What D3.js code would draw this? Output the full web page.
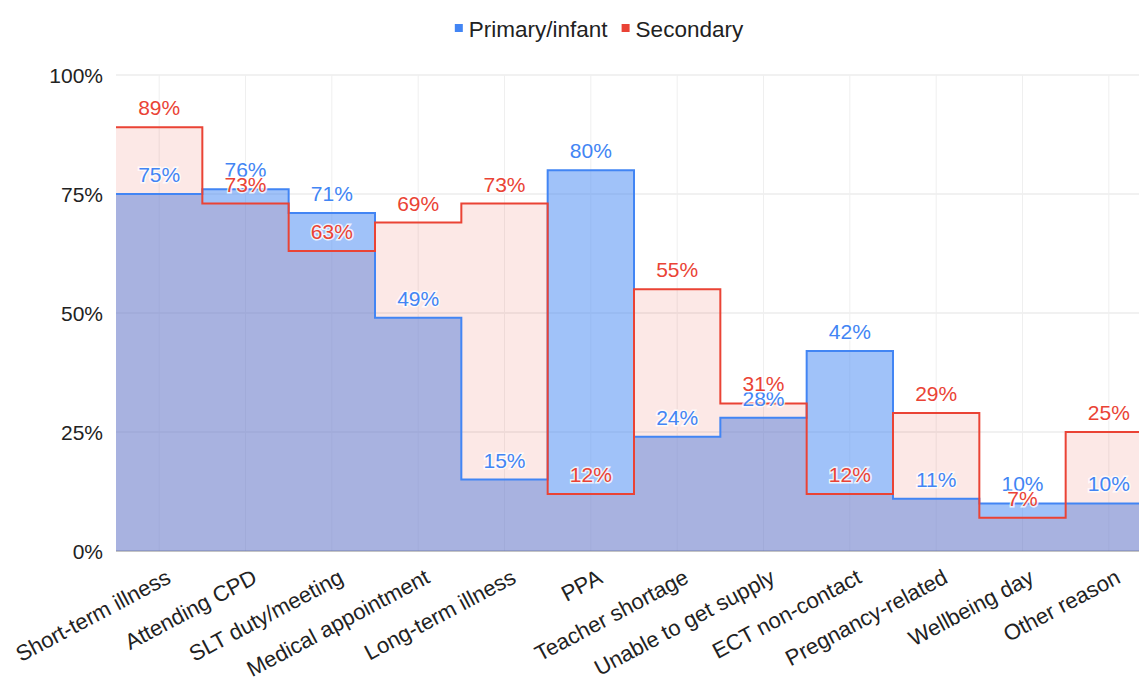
<!DOCTYPE html>
<html>
<head>
<meta charset="utf-8">
<script src="https://cdn.jsdelivr.net/npm/d3@7"></script>
<style>
  html, body { margin: 0; padding: 0; background: #fff; }
  svg { display: block; font-family: "Liberation Sans", Arial, sans-serif; }
</style>
</head>
<body>
<svg id="chart" width="1139" height="681"></svg>
<script>
// Reasons for cover, share of schools by phase
const categories = [
  "Short-term illness", "Attending CPD", "SLT duty/meeting", "Medical appointment",
  "Long-term illness", "PPA", "Teacher shortage", "Unable to get supply",
  "ECT non-contact", "Pregnancy-related", "Wellbeing day", "Other reason"
];
const primary   = [75, 76, 71, 49, 15, 80, 24, 28, 42, 11, 10, 10];
const secondary = [89, 73, 63, 69, 73, 12, 55, 31, 12, 29, 7, 25];
const seriesNames = ["Primary/infant", "Secondary"];
const yTicks = [0, 25, 50, 75, 100];

const colors = { blue: "#4285f4", red: "#ea4335" };

const W = 1139, H = 681;
const plot = { left: 116, right: 1152, top: 75, bottom: 551 };

const svg = d3.select("#chart");

const x = d3.scaleBand().domain(categories).range([plot.left, plot.right]).padding(0);
const y = d3.scaleLinear().domain([0, 100]).range([plot.bottom, plot.top]);

svg.append("defs").append("clipPath").attr("id", "clip")
  .append("rect").attr("x", plot.left).attr("y", 0).attr("width", W - plot.left).attr("height", H);

// Gridlines
const grid = svg.append("g").attr("clip-path", "url(#clip)");
grid.selectAll("line.h").data(yTicks.filter(d => d > 0)).join("line")
  .attr("x1", plot.left).attr("x2", plot.right)
  .attr("y1", d => y(d)).attr("y2", d => y(d))
  .attr("stroke", "#e3e3e3").attr("stroke-width", 1);
grid.selectAll("line.v").data(categories).join("line")
  .attr("x1", d => x(d) + x.bandwidth() / 2).attr("x2", d => x(d) + x.bandwidth() / 2)
  .attr("y1", plot.top).attr("y2", plot.bottom)
  .attr("stroke", "#efefef").attr("stroke-width", 1);
grid.append("line")
  .attr("x1", plot.left).attr("x2", plot.right)
  .attr("y1", y(0)).attr("y2", y(0))
  .attr("stroke", "#8a8a8a").attr("stroke-width", 1.2);

// Step points: each category holds its value across its band
function stepPoints(values) {
  const pts = categories.map((c, i) => ({ x: x(c), v: values[i] }));
  pts.push({ x: x(categories[categories.length - 1]) + x.bandwidth(), v: values[values.length - 1] });
  return pts;
}

const area = d3.area().curve(d3.curveStepAfter)
  .x(d => d.x).y0(y(0)).y1(d => y(d.v));
const line = d3.line().curve(d3.curveStepAfter)
  .x(d => d.x).y(d => y(d.v));

const marks = svg.append("g").attr("clip-path", "url(#clip)");
marks.append("path").datum(stepPoints(primary))
  .attr("d", area).attr("fill", colors.blue).attr("fill-opacity", 0.5);
marks.append("path").datum(stepPoints(secondary))
  .attr("d", area).attr("fill", colors.red).attr("fill-opacity", 0.12);
marks.append("path").datum(stepPoints(primary))
  .attr("d", line).attr("fill", "none").attr("stroke", colors.blue).attr("stroke-width", 2);
marks.append("path").datum(stepPoints(secondary))
  .attr("d", line).attr("fill", "none").attr("stroke", colors.red).attr("stroke-width", 2);

// Value labels
function valueLabels(values, color) {
  svg.append("g").selectAll("text").data(values).join("text")
    .attr("x", (d, i) => x(categories[i]) + x.bandwidth() / 2)
    .attr("y", d => y(d) - 12)
    .attr("text-anchor", "middle")
    .attr("font-size", 21)
    .attr("fill", color)
    .attr("stroke", "#fff").attr("stroke-width", 3).attr("stroke-opacity", 0.8)
    .attr("paint-order", "stroke")
    .text(d => d + "%");
}
valueLabels(primary, colors.blue);
valueLabels(secondary, colors.red);

// Y axis labels
svg.append("g").selectAll("text").data(yTicks).join("text")
  .attr("x", 103).attr("y", d => y(d) + 7.5)
  .attr("text-anchor", "end").attr("font-size", 21).attr("fill", "#222")
  .text(d => d + "%");

// X axis labels, slanted
svg.append("g").selectAll("text").data(categories).join("text")
  .attr("transform", d => `translate(${x(d) + x.bandwidth() / 2 + 13},582) rotate(-28)`)
  .attr("text-anchor", "end").attr("font-size", 22).attr("fill", "#222")
  .text(d => d);

// Legend
const legend = svg.append("g");
const legendColors = [colors.blue, colors.red];
let lx = 0;
seriesNames.forEach((name, i) => {
  const g = legend.append("g");
  g.append("rect").attr("x", 0).attr("y", -13).attr("width", 8).attr("height", 8).attr("fill", legendColors[i]);
  const t = g.append("text").attr("x", 14).attr("y", 0).attr("font-size", 22.5).attr("fill", "#222").text(name);
  const w = 14 + t.node().getComputedTextLength();
  g.attr("transform", `translate(${lx},37)`);
  lx += w + 14;
});
const totalW = lx - 14;
legend.attr("transform", `translate(${599 - totalW / 2},0)`);
</script>
</body>
</html>
